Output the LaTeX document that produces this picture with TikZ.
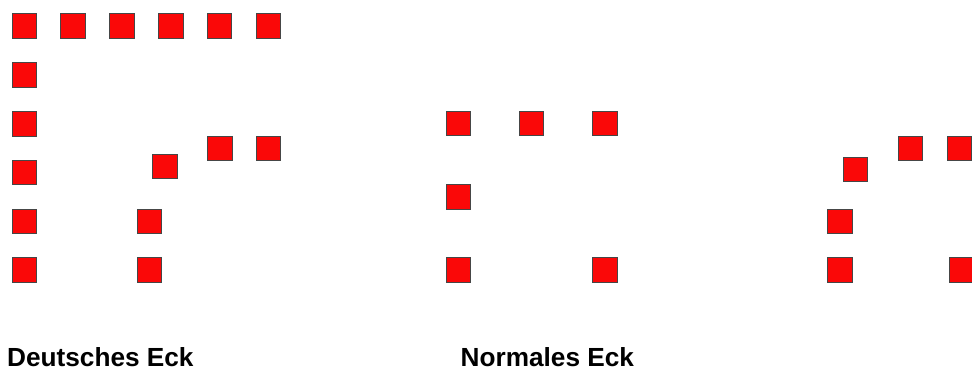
\documentclass[tikz,border=0pt]{standalone}
\usepackage{fontspec}
\setmainfont{Liberation Sans}
\definecolor{sqred}{RGB}{250,8,8}
\definecolor{sqedge}{RGB}{70,70,70}
\begin{document}
\begin{tikzpicture}[x=1pt,y=-1pt,
  sq/.style={draw=sqedge,fill=sqred,line width=1pt,minimum size=24.5pt,inner sep=0pt,outer sep=0pt},
  caption/.style={anchor=base west,inner sep=0pt,font=\fontsize{26.2}{30}\selectfont\bfseries}]
\path[use as bounding box,clip] (0,0) rectangle (972,372);
% Deutsches Eck
\foreach \x [count=\i] in {24.5,73,122,171,219.5,268.5}
  \node[sq] (dt\i) at (\x,26) {};
\foreach \y [count=\i] in {75,124,172.5,221.5,270}
  \node[sq] (dl\i) at (24.5,\y) {};
\node[sq] (dc1) at (165,166.5) {};
\node[sq] (dc2) at (220,148.3) {};
\node[sq] (dc3) at (268.5,148.3) {};
\node[sq] (dm1) at (149.7,221.5) {};
\node[sq] (dm2) at (149.7,270) {};
% Normales Eck
\node[sq] (n1) at (458.5,123.5) {};
\node[sq] (n2) at (531.5,123.5) {};
\node[sq] (n3) at (605,123.5) {};
\node[sq] (n4) at (458.5,197) {};
\node[sq] (n5) at (458.5,270) {};
\node[sq] (n6) at (605,270) {};
% right group
\node[sq] (r1) at (855.5,169.7) {};
\node[sq] (r2) at (910.7,148.3) {};
\node[sq] (r3) at (959.5,148.3) {};
\node[sq] (r4) at (840,221.5) {};
\node[sq] (r5) at (840,270) {};
\node[sq] (r6) at (962,270) {};
% captions
\node[caption] (cap1) at (7,366.5) {Deutsches Eck};
\node[caption] (cap2) at (460.5,366.5) {Normales Eck};
\end{tikzpicture}
\end{document}
